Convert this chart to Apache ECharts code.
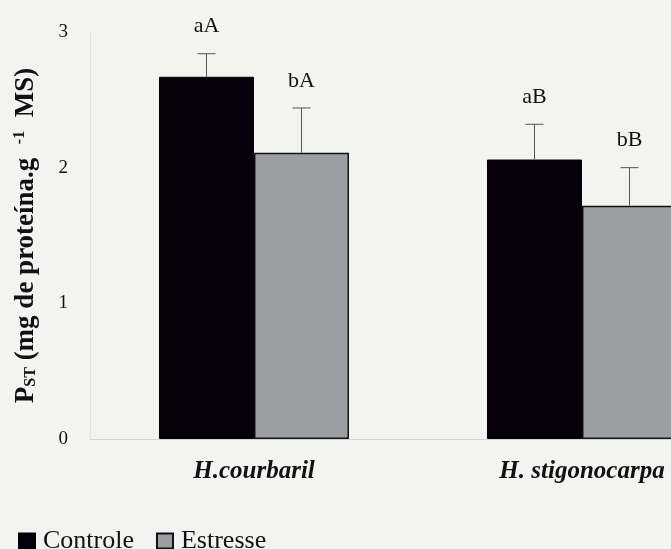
<!DOCTYPE html>
<html>
<head>
<meta charset="utf-8">
<script src="https://cdn.jsdelivr.net/npm/echarts@6/dist/echarts.min.js"></script>
<style>
  html, body { margin: 0; padding: 0; background: #f3f3f1; overflow: hidden; }
  /* the original figure is cut off on the right, so the chart is wider than the window */
  #chart { width: 746px; height: 549px; }
</style>
</head>
<body>
<div id="chart"></div>
<script>
// species on the x axis
const species = ['H.courbaril', 'H. stigonocarpa'];
// P_ST means
const controle = [2.67, 2.06];
const estresse = [2.11, 1.72];
// upper end of the error bars
const controleErr = [2.84, 2.32];
const estresseErr = [2.44, 2.00];
// letters above the bars
const controleLetters = ['aA', 'aB'];
const estresseLetters = ['bA', 'bB'];

const serif = '"Liberation Serif", "DejaVu Serif", serif';
const BAR_W = 95;

const chart = echarts.init(document.getElementById('chart'));

/**
 * error whisker (upwards only) plus the letter above it
 */
const errorSeries = (name, means, tops, letters, offset) => ({
  name: name + ' err',
  type: 'custom',
  z: 5,
  data: means.map((m, i) => [i, m, tops[i]]),
  renderItem: (params, api) => {
    const base = api.coord([api.value(0), api.value(1)]);
    const top = api.coord([api.value(0), api.value(2)]);
    const x = base[0] + offset;
    return {
      type: 'group',
      children: [
        { type: 'line', shape: { x1: x, y1: base[1], x2: x, y2: top[1] },
          style: { stroke: '#555', lineWidth: 1 } },
        { type: 'line', shape: { x1: x - 9, y1: top[1], x2: x + 9, y2: top[1] },
          style: { stroke: '#555', lineWidth: 1 } },
        { type: 'text', x: x, y: top[1] - 27,
          style: { text: letters[params.dataIndex], fill: '#111', font: '22px ' + serif,
            align: 'center', verticalAlign: 'middle' } }
      ]
    };
  }
});

const option = {
  backgroundColor: '#f3f3f1',
  animation: false,
  textStyle: { fontFamily: serif },
  grid: { left: 90, top: 32, right: 0, bottom: 110 },
  legend: {
    data: ['Controle', 'Estresse'],
    left: 13,
    top: 523,
    padding: 5,
    icon: 'rect',
    itemWidth: 16,
    itemHeight: 15,
    itemGap: 22,
    textStyle: { fontFamily: serif, fontSize: 26, color: '#111', padding: [0, 0, 0, 3] }
  },
  xAxis: {
    type: 'category',
    data: species,
    axisLine: { lineStyle: { color: '#d4d4d4' } },
    axisTick: { show: false },
    axisLabel: {
      margin: 20,
      fontFamily: serif,
      fontSize: 25,
      fontStyle: 'italic',
      fontWeight: 'bold',
      color: '#111'
    }
  },
  yAxis: {
    type: 'value',
    min: 0,
    max: 3,
    interval: 1,
    splitLine: { show: false },
    axisTick: { show: false },
    axisLine: { show: true, lineStyle: { color: '#e2e2e2' } },
    axisLabel: { margin: 22, fontFamily: serif, fontSize: 19, color: '#111' },
    name: '{b|P}{sub|ST}{b| (mg de proteína.g  }{sup|-1}{b|  MS)}',
    nameLocation: 'middle',
    nameGap: 50,
    nameTextStyle: {
      rich: {
        b: { fontFamily: serif, fontSize: 27, fontWeight: 'bold', color: '#111' },
        sub: { fontFamily: serif, fontSize: 16, fontWeight: 'bold', color: '#111', padding: [10, 0, 0, 0] },
        sup: { fontFamily: serif, fontSize: 16, fontWeight: 'bold', color: '#111', padding: [0, 0, 12, 0] }
      }
    }
  },
  series: [
    {
      name: 'Controle',
      type: 'bar',
      data: controle,
      barWidth: BAR_W,
      barGap: '0%',
      itemStyle: { color: '#05000a', borderColor: '#000', borderWidth: 1 }
    },
    {
      name: 'Estresse',
      type: 'bar',
      data: estresse,
      barWidth: BAR_W,
      itemStyle: { color: '#9c9fa1', borderColor: '#111', borderWidth: 1.5 }
    },
    errorSeries('Controle', controle, controleErr, controleLetters, -BAR_W / 2),
    errorSeries('Estresse', estresse, estresseErr, estresseLetters, BAR_W / 2)
  ]
};

chart.setOption(option);
</script>
</body>
</html>
